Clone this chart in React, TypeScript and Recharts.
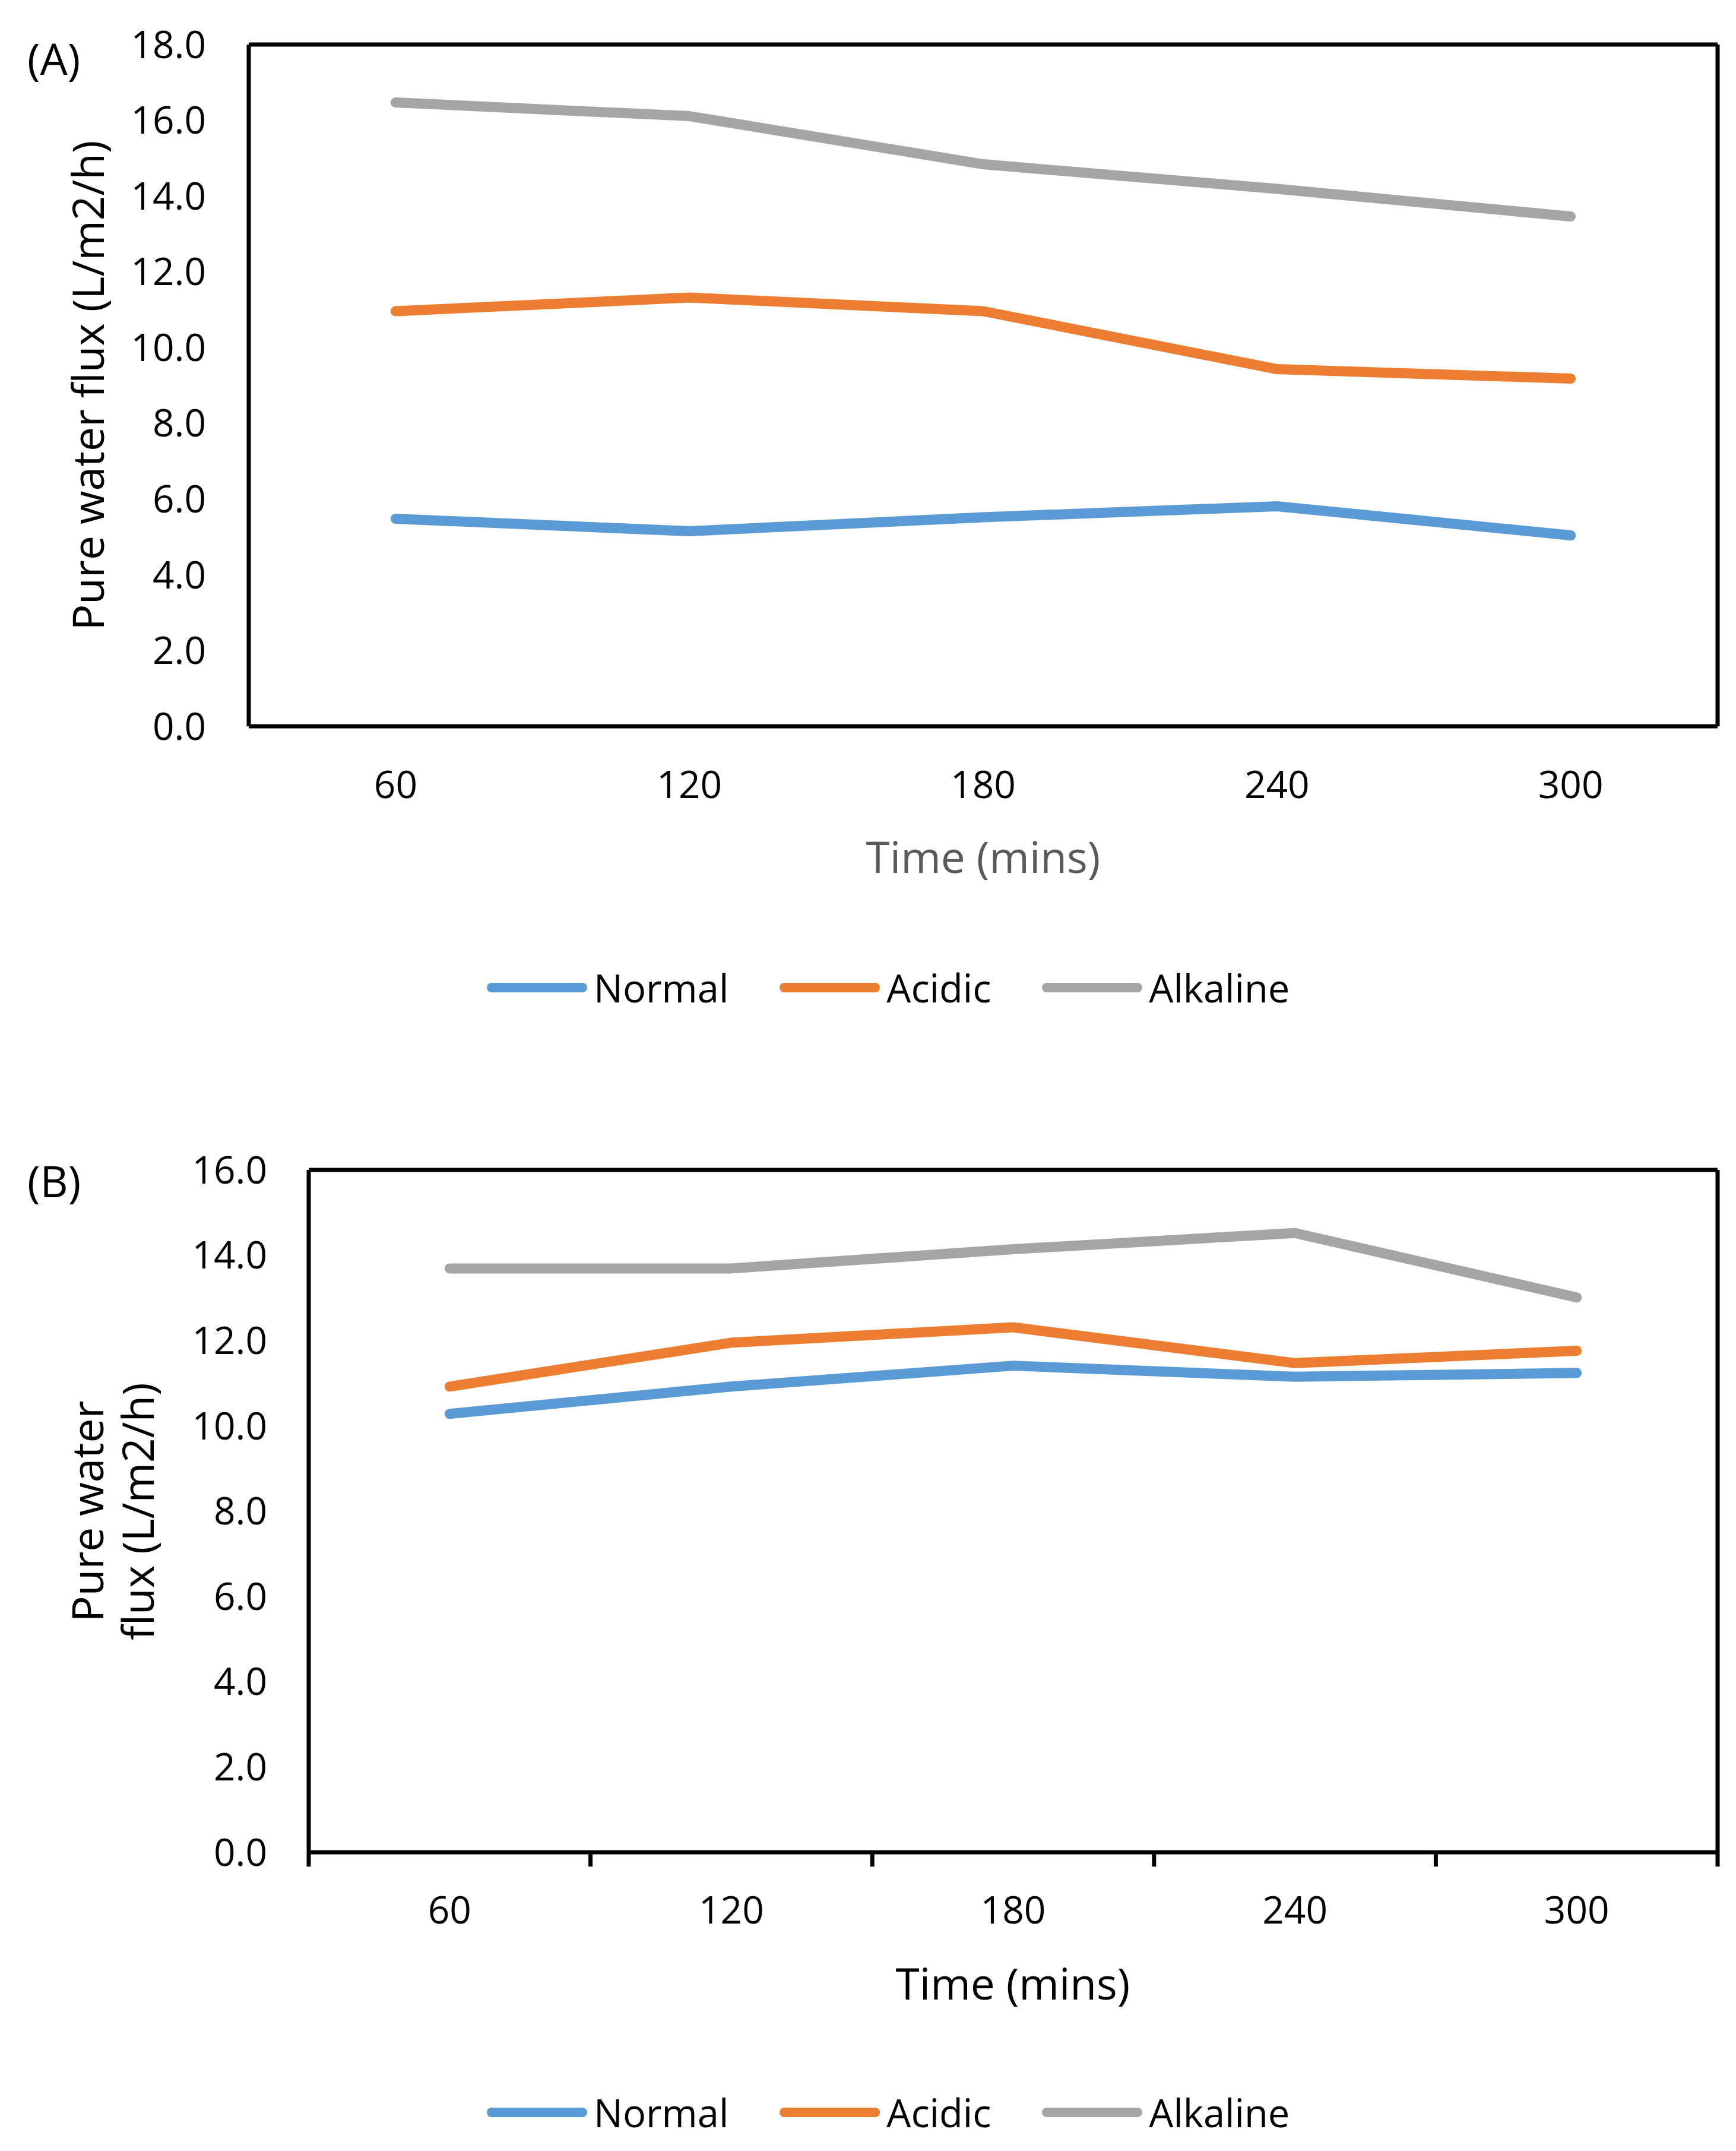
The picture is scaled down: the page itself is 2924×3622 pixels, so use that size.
import { LineChart, Line, XAxis, YAxis, ReferenceLine } from 'recharts'

const TIMES = [60, 120, 180, 240, 300]
const B_TICK_MARKS = [30, 90, 150, 210, 270, 330]

const A_NORMAL = [5.48, 5.15, 5.52, 5.81, 5.04]
const A_ACIDIC = [10.96, 11.32, 10.96, 9.43, 9.18]
const A_ALKALINE = [16.47, 16.11, 14.84, 14.19, 13.46]

const B_NORMAL = [10.28, 10.92, 11.41, 11.15, 11.24]
const B_ACIDIC = [10.92, 11.95, 12.31, 11.47, 11.76]
const B_ALKALINE = [13.69, 13.69, 14.14, 14.52, 13.01]

const A_Y_TICKS = [0, 2, 4, 6, 8, 10, 12, 14, 16, 18]
const B_Y_TICKS = [0, 2, 4, 6, 8, 10, 12, 14, 16]

const SERIES = [
  { key: 'normal', name: 'Normal', color: '#5B9BD5' },
  { key: 'acidic', name: 'Acidic', color: '#ED7D31' },
  { key: 'alkaline', name: 'Alkaline', color: '#A5A5A5' },
]

const FONT = '"Open Sans", sans-serif'
const TICK_FONT = 64
const TITLE_FONT = 73
const EDGE = 7

const dataA = TIMES.map((t, i) => ({ time: t, normal: A_NORMAL[i], acidic: A_ACIDIC[i], alkaline: A_ALKALINE[i] }))
const dataB = TIMES.map((t, i) => ({ time: t, normal: B_NORMAL[i], acidic: B_ACIDIC[i], alkaline: B_ALKALINE[i] }))

const fmt = (v: number) => v.toFixed(1)
const border = { stroke: '#000', strokeWidth: EDGE }

// labels at the points, tick marks between them (Excel style)
function BottomTickB(props: any) {
  const { x, y, payload } = props
  const v = payload.value as number
  if (TIMES.includes(v)) {
    return (
      <text x={x} y={y + 75} dy="0.71em" textAnchor="middle" fill="#000" fontSize={TICK_FONT} fontFamily={FONT}>
        {v}
      </text>
    )
  }
  return <line x1={x} y1={y} x2={x} y2={y + 24} stroke="#000" strokeWidth={EDGE} />
}

function LegendRow({ top }: { top: number }) {
  return (
    <div style={{ position: 'absolute', left: 820, top, transform: 'translateY(-50%)', display: 'flex', alignItems: 'center', gap: 86, fontFamily: FONT, fontSize: 65, color: '#000', whiteSpace: 'nowrap', lineHeight: 1.2 }}>
      {SERIES.map((s) => (
        <div key={s.key} style={{ display: 'flex', alignItems: 'center' }}>
          <div style={{ width: 169, height: 16, borderRadius: 8, background: s.color, marginRight: 11 }} />
          <span>{s.name}</span>
        </div>
      ))}
    </div>
  )
}

function Lines() {
  return SERIES.map((s) => (
    <Line
      key={s.key}
      type="linear"
      dataKey={s.key}
      name={s.name}
      stroke={s.color}
      strokeWidth={17}
      strokeLinecap="round"
      strokeLinejoin="round"
      dot={false}
      activeDot={false}
      isAnimationActive={false}
    />
  ))
}

const textBase = { position: 'absolute' as const, fontFamily: FONT, fontSize: TITLE_FONT, whiteSpace: 'nowrap' as const, lineHeight: 1 }

export default function App() {
  return (
    <div style={{ position: 'absolute', left: 0, top: 0, width: 2924, height: 3622, background: '#fff' }}>
      {/* panel A */}
      <div style={{ position: 'absolute', left: 0, top: 0 }}>
        <LineChart width={2924} height={1400} data={dataA} margin={{ top: 75, right: 31, bottom: 0, left: 0 }}>
          <XAxis
            dataKey="time"
            type="number"
            domain={[30, 330]}
            ticks={TIMES}
            interval={0}
            height={177}
            tickLine={false}
            tickSize={0}
            tickMargin={76}
            axisLine={border}
            tick={{ fill: '#000', fontSize: TICK_FONT, fontFamily: FONT }}
          />
          <YAxis
            domain={[0, 18]}
            ticks={A_Y_TICKS}
            interval={0}
            width={419}
            tickLine={false}
            tickSize={0}
            tickMargin={72}
            tickFormatter={fmt}
            axisLine={border}
            tick={{ fill: '#000', fontSize: TICK_FONT, fontFamily: FONT }}
          />
          <ReferenceLine y={18} stroke="#000" strokeWidth={EDGE} />
          <ReferenceLine x={330} stroke="#000" strokeWidth={EDGE} />
          {Lines()}
        </LineChart>
      </div>
      <div style={{ ...textBase, left: 46, top: 97, transform: 'translateY(-50%)' }}>(A)</div>
      <div style={{ ...textBase, left: 146, top: 649, transform: 'translate(-50%, -50%) rotate(-90deg)' }}>Pure water flux (L/m2/h)</div>
      <div style={{ ...textBase, left: 1656, top: 1441, transform: 'translate(-50%, -50%)', color: '#595959' }}>Time (mins)</div>
      <LegendRow top={1663} />

      {/* panel B */}
      <div style={{ position: 'absolute', left: 0, top: 1700 }}>
        <LineChart width={2924} height={1600} data={dataB} margin={{ top: 270, right: 31, bottom: 0, left: 0 }}>
          <XAxis
            dataKey="time"
            type="number"
            domain={[30, 330]}
            ticks={[...B_TICK_MARKS, ...TIMES].sort((a, b) => a - b)}
            interval={0}
            height={181}
            tickLine={false}
            tickSize={0}
            tickMargin={0}
            axisLine={border}
            tick={<BottomTickB />}
          />
          <YAxis
            domain={[0, 16]}
            ticks={B_Y_TICKS}
            interval={0}
            width={520}
            tickLine={false}
            tickSize={0}
            tickMargin={70}
            tickFormatter={fmt}
            axisLine={border}
            tick={{ fill: '#000', fontSize: TICK_FONT, fontFamily: FONT }}
          />
          <ReferenceLine y={16} stroke="#000" strokeWidth={EDGE} />
          <ReferenceLine x={330} stroke="#000" strokeWidth={EDGE} />
          {Lines()}
        </LineChart>
      </div>
      <div style={{ ...textBase, left: 46, top: 1987, transform: 'translateY(-50%)' }}>(B)</div>
      <div style={{ ...textBase, left: 188, top: 2545, transform: 'translate(-50%, -50%) rotate(-90deg)', textAlign: 'center', lineHeight: '85px' }}>
        Pure water
        <br />
        flux (L/m2/h)
      </div>
      <div style={{ ...textBase, left: 1706, top: 3338, transform: 'translate(-50%, -50%)', color: '#000' }}>Time (mins)</div>
      <LegendRow top={3557} />
    </div>
  )
}
